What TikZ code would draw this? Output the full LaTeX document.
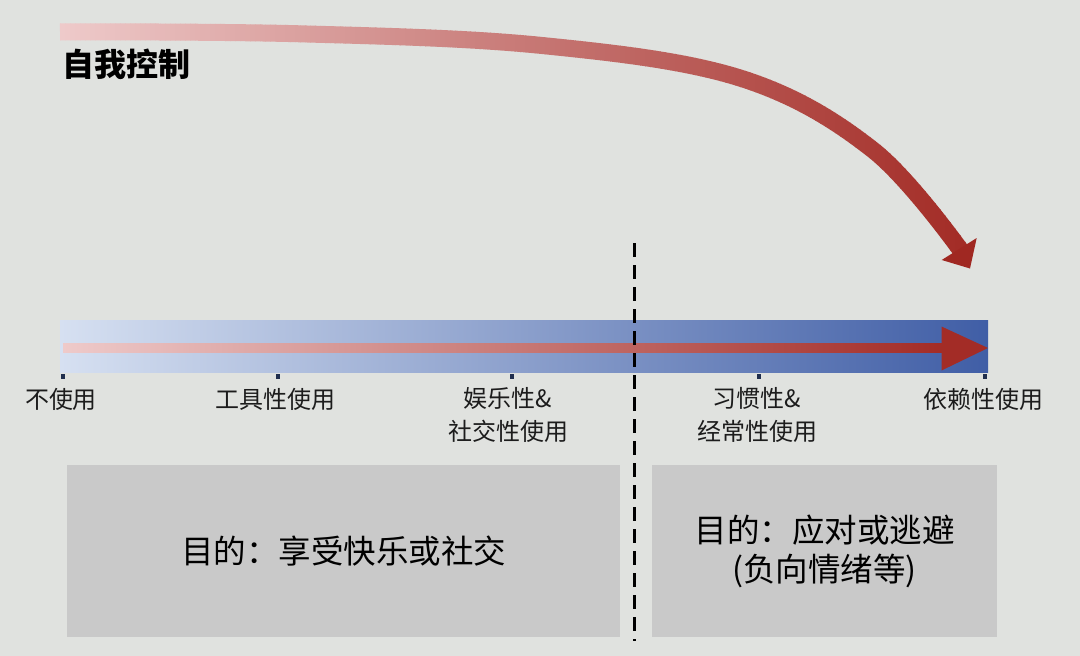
\documentclass[tikz,border=0pt]{standalone}
\usepackage{fontspec}
\newfontfamily\cjk{Noto Sans CJK SC}
\definecolor{bg}{RGB}{224,226,223}
\definecolor{arrA}{RGB}{238,202,202}
\definecolor{arrB}{RGB}{163,44,38}
\definecolor{headc}{RGB}{160,40,34}
\definecolor{barA}{RGB}{214,224,241}
\definecolor{barB}{RGB}{64,94,166}
\definecolor{boxc}{RGB}{201,201,201}
\definecolor{tickc}{RGB}{32,46,78}
\definecolor{txt}{RGB}{28,28,28}
\newcommand{\toparrowpath}{plot[smooth,tension=0.6] coordinates {(60,31.8) (300,33.8) (540,45.3) (740,78) (873,150) (962,252)}}
\begin{document}
\begin{tikzpicture}[x=1pt,y=-1pt,
  lab/.style={font=\cjk\fontsize{24}{32.5}\selectfont, text=txt, align=center, inner sep=0pt},
  boxtext/.style={font=\cjk\fontsize{32.5}{39}\selectfont, text=black, align=center, inner sep=0pt},
  tickmark/.style={fill=tickc, draw=none, minimum width=4pt, minimum height=5pt, inner sep=0pt},
  panel/.style={fill=boxc, draw=none, minimum height=172pt, inner sep=0pt},
  divider/.style={black, line width=3pt, dash pattern=on 14pt off 8pt}]
\fill[bg] (0,0) rectangle (1080,656);
\useasboundingbox (0,0) rectangle (1080,656);

% top curved arrow (gradient via vertical strips)
\foreach \x in {55,60,...,995} {
  \pgfmathsetmacro\p{max(0,min(100,(\x-60)/9))}
  \begin{scope}
    \clip (\x,0) rectangle (\x+5.6,300);
    \draw[line width=17pt, color=arrB!\p!arrA] \toparrowpath;
  \end{scope}
}
\coordinate (hw1) at (941.7,260);
\coordinate (htip) at (970,268.5);
\coordinate (hw2) at (976.7,238);
\fill[headc] (hw1) -- (htip) -- (hw2) -- cycle;

\node[anchor=west, inner sep=0pt, font=\cjk\bfseries\fontsize{32}{36}\selectfont, text=black] (self) at (62,64) {自我控制};

% bar
\coordinate (barNW) at (60,320.5);
\coordinate (barSE) at (988,372);
\shade[left color=barA, right color=barB] (barNW) rectangle (barSE);
\coordinate (rl1) at (63,343.5);
\coordinate (rl2) at (942,352);
\shade[left color=arrA, right color=arrB] (rl1) rectangle (rl2);
\coordinate (bh1) at (941.5,326.5);
\coordinate (bhtip) at (988,348);
\coordinate (bh2) at (941.5,370.5);
\fill[arrB] (bh1) -- (bhtip) -- (bh2) -- cycle;

% ticks
\foreach \x/\n in {63/a,278/b,512/c,759/d,985/e}
  \node[tickmark] (t\n) at (\x,376) {};

% labels
\node[lab] (la) at (61,399) {不使用};
\node[lab] (lb) at (275,399) {工具性使用};
\node[lab] (lc) at (508,415) {娱乐性\&\\社交性使用};
\node[lab] (ld) at (757,415) {习惯性\&\\经常性使用};
\node[lab] (le) at (983.5,399) {依赖性使用};

% panels
\node[panel, minimum width=553pt] (pl) at (343.5,551) {};
\node[boxtext] (plt) at (pl.center) {目的：享受快乐或社交};
\node[panel, minimum width=345pt] (pr) at (824.5,551) {};
\node[boxtext] (prt) at (pr.center) {目的：应对或逃避\\(负向情绪等)};

% divider
\coordinate (dtop) at (634,243);
\coordinate (dbot) at (634,641);
\draw[divider] (dtop) -- (dbot);
\end{tikzpicture}
\end{document}
